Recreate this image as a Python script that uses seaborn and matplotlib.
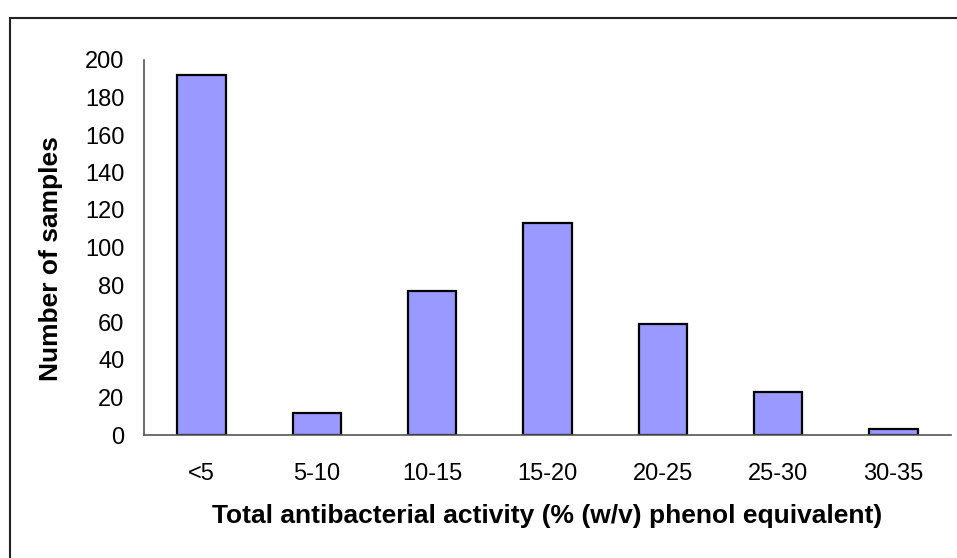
import numpy as np
import pandas as pd
import matplotlib
matplotlib.use('Agg')
import matplotlib.pyplot as plt
import seaborn as sns
from matplotlib.patches import Rectangle

categories = ['<5', '5-10', '10-15', '15-20', '20-25', '25-30', '30-35']
counts = [192, 12, 77, 113, 59, 23, 3]

sns.set_style('white')
plt.rcParams['font.family'] = ['Liberation Sans', 'DejaVu Sans']
plt.rcParams['text.color'] = 'black'
plt.rcParams['axes.labelcolor'] = 'black'
plt.rcParams['xtick.color'] = 'black'
plt.rcParams['ytick.color'] = 'black'

df = pd.DataFrame({'range': categories, 'n': counts})

fig = plt.figure(figsize=(9.57, 5.58), dpi=100)
ax = fig.add_axes([144 / 957, 1 - 435 / 558, (951 - 144) / 957, (435 - 60) / 558])

sns.barplot(data=df, x='range', y='n', color='#9999FF', saturation=1,
            edgecolor='black', linewidth=1.6, width=0.42, ax=ax)

ax.set_xlim(-0.5, len(categories) - 0.5)
ax.set_ylim(0, 200)
ax.set_yticks(range(0, 201, 20))

# ticks between the categories
ax.set_xticks(np.arange(-0.5, len(categories), 1.0), minor=True)
ax.tick_params(axis='x', which='major', length=0, pad=20, labelsize=17)
ax.tick_params(axis='x', which='minor', length=6, width=1.2, color='#555555', direction='out')
ax.tick_params(axis='y', length=7, width=1.2, color='#555555', direction='out', labelsize=17, pad=7)

for side in ['top', 'right']:
    ax.spines[side].set_visible(False)
for side in ['left', 'bottom']:
    ax.spines[side].set_color('#555555')
    ax.spines[side].set_linewidth(1.2)

ax.set_xlabel('Total antibacterial activity (% (w/v) phenol equivalent)',
              fontsize=19, fontweight='bold')
ax.set_ylabel('Number of samples', fontsize=19, fontweight='bold')
ax.xaxis.set_label_coords(0.5, -0.185)
ax.yaxis.set_label_coords(-0.10, 0.47)

# outer frame of the chart area
fig.patches.append(Rectangle((10 / 957, -0.05), 1.0, 1 - 18 / 558 + 0.05,
                             transform=fig.transFigure, fill=False,
                             edgecolor='#222222', linewidth=1.5))

fig.savefig('out.png', dpi=100)
